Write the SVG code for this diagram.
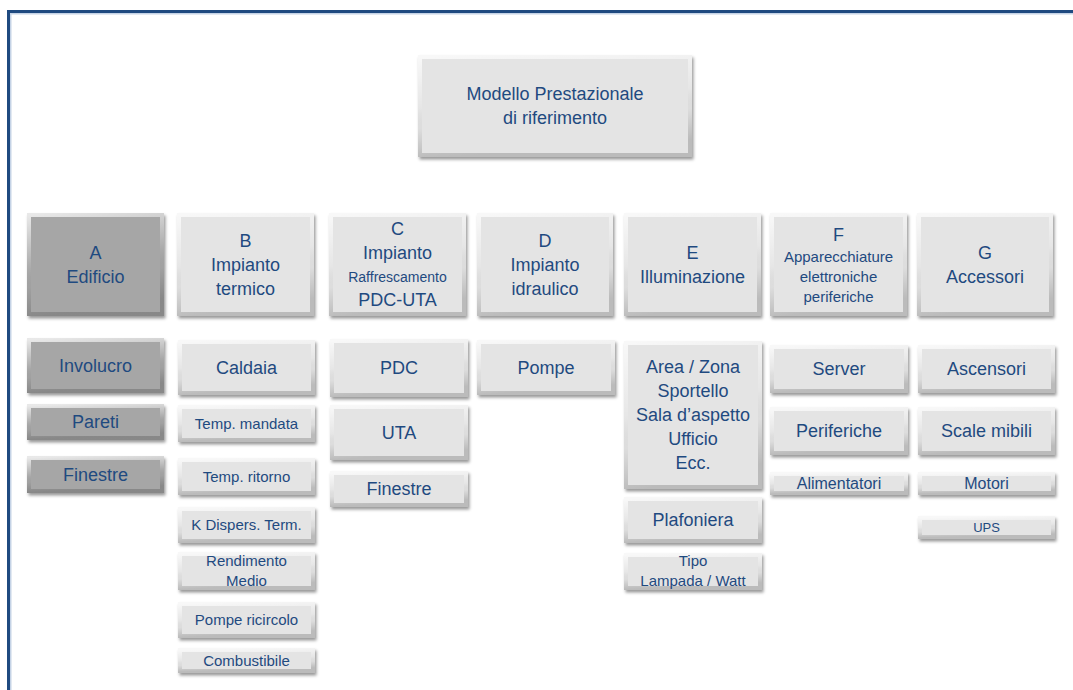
<svg xmlns="http://www.w3.org/2000/svg" width="1073" height="690" viewBox="0 0 1073 690">
<defs>
<filter id="sh" x="-10%" y="-20%" width="125%" height="150%">
<feDropShadow dx="1.5" dy="2.5" stdDeviation="1.6" flood-color="#000" flood-opacity="0.4"/>
</filter>
<linearGradient id="bev" x1="0" y1="0" x2="0.2" y2="1">
<stop offset="0" stop-color="#ffffff" stop-opacity="0.75"/>
<stop offset="0.5" stop-color="#ffffff" stop-opacity="0.08"/>
<stop offset="0.7" stop-color="#000000" stop-opacity="0.03"/>
<stop offset="1" stop-color="#000000" stop-opacity="0.18"/>
</linearGradient>
</defs>
<style>
.L{fill:#e4e4e4;filter:url(#sh)}
.D{fill:#a6a6a6;filter:url(#sh)}
.b{fill:none;stroke:url(#bev);stroke-width:4}
text{font-family:"Liberation Sans",Arial,sans-serif;fill:#1f4a80;text-anchor:middle}
.f18{font-size:18px}
.f16{font-size:16px}
.f15{font-size:15px}
.f14{font-size:14px}
.f13{font-size:13px}
</style>
<rect width="1073" height="690" fill="#ffffff"/>
<g id="frame">
<rect x="7" y="13" width="1066" height="1.5" fill="#c5d3e6"/>
<rect x="10" y="13" width="1.5" height="677" fill="#c5d3e6"/>
<rect x="7" y="10" width="1066" height="3" fill="#1f4a80"/>
<rect x="7" y="10" width="3" height="680" fill="#1f4a80"/>
</g>
<g id="connectors"></g>
<g id="root"><rect class="L" x="418" y="55" width="274" height="102"/><rect class="b" x="420" y="57" width="270" height="98"/><text class="f18" x="555" y="100">Modello Prestazionale</text><text class="f18" x="555" y="124">di riferimento</text></g>

<g id="A"><rect class="D" x="27" y="213" width="137" height="103"/><rect class="b" x="29" y="215" width="133" height="99"/><text class="f18" x="95.5" y="259">A</text><text class="f18" x="95.5" y="283">Edificio</text></g>
<g id="B"><rect class="L" x="177" y="213" width="137" height="103"/><rect class="b" x="179" y="215" width="133" height="99"/><text class="f18" x="245.5" y="247">B</text><text class="f18" x="245.5" y="271">Impianto</text><text class="f18" x="245.5" y="295">termico</text></g>
<g id="C"><rect class="L" x="329" y="213" width="137" height="103"/><rect class="b" x="331" y="215" width="133" height="99"/><text class="f18" x="397.5" y="235">C</text><text class="f18" x="397.5" y="259">Impianto</text><text class="f14" x="397.5" y="282">Raffrescamento</text><text class="f18" x="397.5" y="306">PDC-UTA</text></g>
<g id="D"><rect class="L" x="477" y="213" width="136" height="103"/><rect class="b" x="479" y="215" width="132" height="99"/><text class="f18" x="545" y="247">D</text><text class="f18" x="545" y="271">Impianto</text><text class="f18" x="545" y="295">idraulico</text></g>
<g id="E"><rect class="L" x="624" y="213" width="137" height="103"/><rect class="b" x="626" y="215" width="133" height="99"/><text class="f18" x="692.5" y="259">E</text><text class="f18" x="692.5" y="283">Illuminazione</text></g>
<g id="F"><rect class="L" x="770" y="213" width="137" height="103"/><rect class="b" x="772" y="215" width="133" height="99"/><text class="f18" x="838.5" y="241">F</text><text class="f15" x="838.5" y="262">Apparecchiature</text><text class="f15" x="838.5" y="282">elettroniche</text><text class="f15" x="838.5" y="302">periferiche</text></g>
<g id="G"><rect class="L" x="917" y="213" width="136" height="103"/><rect class="b" x="919" y="215" width="132" height="99"/><text class="f18" x="985" y="259">G</text><text class="f18" x="985" y="283">Accessori</text></g>

<g id="A1"><rect class="D" x="27" y="338" width="137" height="55"/><rect class="b" x="29" y="340" width="133" height="51"/><text class="f18" x="95.5" y="372">Involucro</text></g>
<g id="A2"><rect class="D" x="27" y="404" width="137" height="36"/><rect class="b" x="29" y="406" width="133" height="32"/><text class="f18" x="95.5" y="428">Pareti</text></g>
<g id="A3"><rect class="D" x="27" y="456" width="137" height="37"/><rect class="b" x="29" y="458" width="133" height="33"/><text class="f18" x="95.5" y="481">Finestre</text></g>

<g id="B1"><rect class="L" x="178" y="340" width="137" height="55"/><rect class="b" x="180" y="342" width="133" height="51"/><text class="f18" x="246.5" y="374">Caldaia</text></g>
<g id="B2"><rect class="L" x="178" y="405" width="137" height="37"/><rect class="b" x="180" y="407" width="133" height="33"/><text class="f15" x="246.5" y="429">Temp. mandata</text></g>
<g id="B3"><rect class="L" x="178" y="458" width="137" height="37"/><rect class="b" x="180" y="460" width="133" height="33"/><text class="f15" x="246.5" y="482">Temp. ritorno</text></g>
<g id="B4"><rect class="L" x="178" y="507" width="137" height="36"/><rect class="b" x="180" y="509" width="133" height="32"/><text class="f15" x="246.5" y="530">K Dispers. Term.</text></g>
<g id="B5"><rect class="L" x="178" y="552" width="137" height="38"/><rect class="b" x="180" y="554" width="133" height="34"/><text class="f15" x="246.5" y="566">Rendimento</text><text class="f15" x="246.5" y="586">Medio</text></g>
<g id="B6"><rect class="L" x="178" y="602" width="137" height="36"/><rect class="b" x="180" y="604" width="133" height="32"/><text class="f15" x="246.5" y="625">Pompe ricircolo</text></g>
<g id="B7"><rect class="L" x="178" y="648" width="137" height="25"/><rect class="b" x="180" y="650" width="133" height="21"/><text class="f15" x="246.5" y="666">Combustibile</text></g>

<g id="C1"><rect class="L" x="330" y="339" width="138" height="58"/><rect class="b" x="332" y="341" width="134" height="54"/><text class="f18" x="399" y="374">PDC</text></g>
<g id="C2"><rect class="L" x="330" y="405" width="138" height="55"/><rect class="b" x="332" y="407" width="134" height="51"/><text class="f18" x="399" y="439">UTA</text></g>
<g id="C3"><rect class="L" x="330" y="471" width="138" height="36"/><rect class="b" x="332" y="473" width="134" height="32"/><text class="f18" x="399" y="495">Finestre</text></g>

<g id="D1"><rect class="L" x="477" y="340" width="138" height="55"/><rect class="b" x="479" y="342" width="134" height="51"/><text class="f18" x="546" y="374">Pompe</text></g>

<g id="E1"><rect class="L" x="624" y="341" width="138" height="148"/><rect class="b" x="626" y="343" width="134" height="144"/><text class="f18" x="693" y="373">Area / Zona</text><text class="f18" x="693" y="397">Sportello</text><text class="f18" x="693" y="421">Sala d’aspetto</text><text class="f18" x="693" y="445">Ufficio</text><text class="f18" x="693" y="469">Ecc.</text></g>
<g id="E2"><rect class="L" x="624" y="497" width="138" height="46"/><rect class="b" x="626" y="499" width="134" height="42"/><text class="f18" x="693" y="526">Plafoniera</text></g>
<g id="E3"><rect class="L" x="624" y="553" width="138" height="37"/><rect class="b" x="626" y="555" width="134" height="33"/><text class="f15" x="693" y="566">Tipo</text><text class="f15" x="693" y="586">Lampada / Watt</text></g>

<g id="F1"><rect class="L" x="770" y="345" width="138" height="48"/><rect class="b" x="772" y="347" width="134" height="44"/><text class="f18" x="839" y="375">Server</text></g>
<g id="F2"><rect class="L" x="770" y="407" width="138" height="48"/><rect class="b" x="772" y="409" width="134" height="44"/><text class="f18" x="839" y="437">Periferiche</text></g>
<g id="F3"><rect class="L" x="770" y="472" width="138" height="23"/><rect class="b" x="772" y="474" width="134" height="19"/><text class="f16" x="839" y="489">Alimentatori</text></g>

<g id="G1"><rect class="L" x="918" y="345" width="137" height="48"/><rect class="b" x="920" y="347" width="133" height="44"/><text class="f18" x="986.5" y="375">Ascensori</text></g>
<g id="G2"><rect class="L" x="918" y="407" width="137" height="48"/><rect class="b" x="920" y="409" width="133" height="44"/><text class="f18" x="986.5" y="437">Scale mibili</text></g>
<g id="G3"><rect class="L" x="918" y="472" width="137" height="23"/><rect class="b" x="920" y="474" width="133" height="19"/><text class="f16" x="986.5" y="489">Motori</text></g>
<g id="G4"><rect class="L" x="918" y="516" width="137" height="23"/><rect class="b" x="920" y="518" width="133" height="19"/><text class="f13" x="986.5" y="532">UPS</text></g>
</svg>
